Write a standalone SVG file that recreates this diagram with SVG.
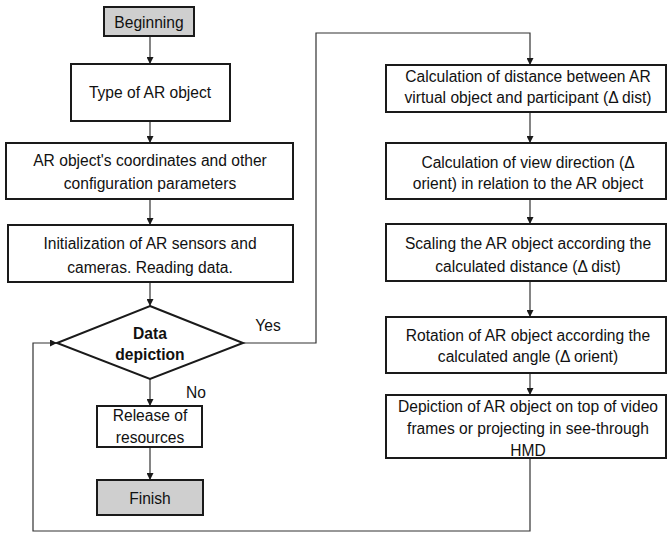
<svg xmlns="http://www.w3.org/2000/svg" width="668" height="534" viewBox="0 0 668 534">
<style>
.box{fill:#fff;stroke:#1a1a1a;stroke-width:2}
.term{fill:#cfcfcf;stroke:#1a1a1a;stroke-width:2}
.c{fill:none;stroke:#333;stroke-width:1.2}
text{font-family:"Liberation Sans",Arial,sans-serif;font-size:15.6px;fill:#111;text-anchor:middle}
.b{font-weight:bold}
</style>
<defs>
<marker id="ah" viewBox="0 0 10 10" refX="10" refY="5" markerWidth="7" markerHeight="7" markerUnits="userSpaceOnUse" orient="auto">
<path d="M0,0 L10,5 L0,10 z" fill="#1a1a1a"/>
</marker>
</defs>
<g id="connectors">
<path class="c" d="M150,36 V64" marker-end="url(#ah)"/>
<path class="c" d="M150,121 V143" marker-end="url(#ah)"/>
<path class="c" d="M150,199 V225" marker-end="url(#ah)"/>
<path class="c" d="M150,282 V306" marker-end="url(#ah)"/>
<path class="c" d="M150,379 V406" marker-end="url(#ah)"/>
<path class="c" d="M150,447 V480" marker-end="url(#ah)"/>
<path class="c" d="M243,343 H316 V33 H530 V65" marker-end="url(#ah)"/>
<path class="c" d="M530,112 V143" marker-end="url(#ah)"/>
<path class="c" d="M530,199 V224" marker-end="url(#ah)"/>
<path class="c" d="M530,281 V317" marker-end="url(#ah)"/>
<path class="c" d="M530,373 V395" marker-end="url(#ah)"/>
<path class="c" d="M530,458 V531 H33 V343 H57" marker-end="url(#ah)"/>
<text x="268" y="331">Yes</text>
<text x="196" y="398">No</text>
</g>
<g id="beginning"><rect class="term" x="104" y="7" width="90" height="29"/><text x="149" y="28">Beginning</text></g>
<g id="type"><rect class="box" x="71" y="64" width="159" height="57"/><text x="150" y="98">Type of AR object</text></g>
<g id="coords"><rect class="box" x="6" y="143" width="287" height="56"/><text x="150" y="166">AR object's coordinates and other</text><text x="150" y="189">configuration parameters</text></g>
<g id="init"><rect class="box" x="8" y="225" width="285" height="57"/><text x="150" y="249">Initialization of AR sensors and</text><text x="150" y="273">cameras. Reading data.</text></g>
<g id="decision"><polygon class="box" points="150,306 243,343 150,379 57,343"/><text class="b" x="150" y="339">Data</text><text class="b" x="150" y="360">depiction</text></g>
<g id="release"><rect class="box" x="97" y="406" width="105" height="41"/><text x="150" y="421">Release of</text><text x="150" y="443">resources</text></g>
<g id="finish"><rect class="term" x="97" y="480" width="106" height="35"/><text x="150" y="504">Finish</text></g>
<g id="r1"><rect class="box" x="386" y="65" width="280" height="47"/><text x="528" y="82">Calculation of distance between AR</text><text x="528" y="103">virtual object and participant (Δ dist)</text></g>
<g id="r2"><rect class="box" x="386" y="143" width="280" height="56"/><text x="528" y="168">Calculation of view direction (Δ</text><text x="528" y="189">orient) in relation to the AR object</text></g>
<g id="r3"><rect class="box" x="386" y="224" width="280" height="57"/><text x="528" y="249">Scaling the AR object according the</text><text x="528" y="272">calculated distance (Δ dist)</text></g>
<g id="r4"><rect class="box" x="386" y="317" width="280" height="56"/><text x="528" y="341">Rotation of AR object according the</text><text x="528" y="362">calculated angle (Δ orient)</text></g>
<g id="r5"><rect class="box" x="386" y="395" width="280" height="63"/><text x="528" y="412">Depiction of AR object on top of video</text><text x="528" y="434">frames or projecting in see-through</text><text x="528" y="456">HMD</text></g>
</svg>
